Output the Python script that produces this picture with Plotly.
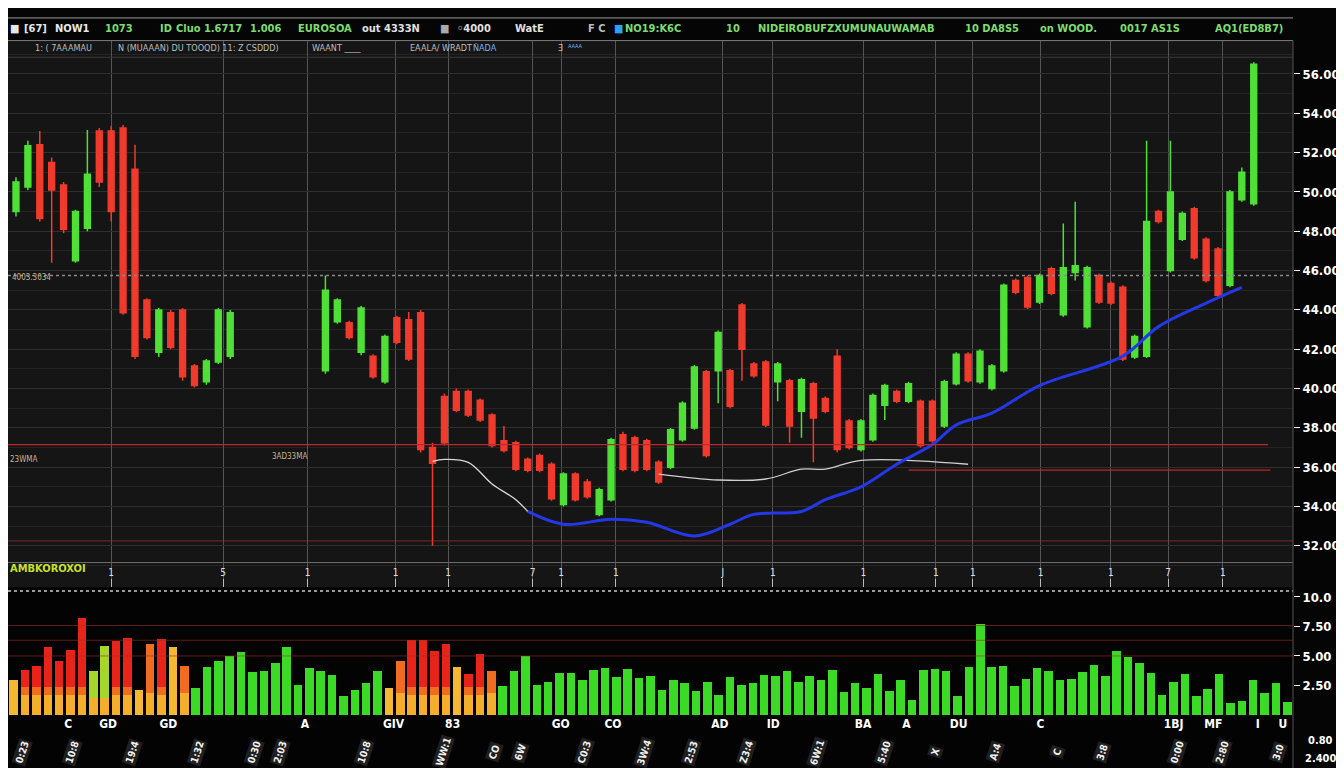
import plotly.graph_objects as go

W, H = 1344, 768
PW = 1285  # plotting width (right margin holds the price labels)
FONT = "Liberation Sans Narrow, DejaVu Sans Condensed, Arial Narrow, sans-serif"

# ---------------- candle data ----------------
candle_idx = list(range(0, 19)) + list(range(26, 105))
opens = [49.0, 50.25, 52.4, 51.5, 50.35, 46.5, 48.15, 53.1, 53.1, 53.25, 51.15, 44.5, 41.85, 43.85, 44.0, 41.15, 40.35, 41.35, 41.65,
         40.9, 43.4, 43.35, 41.85, 41.65, 40.35, 43.6, 43.5, 43.85, 37.0, 39.6, 39.85, 39.85, 39.4, 38.65, 37.35, 37.25, 36.4, 36.6,
         36.15, 34.1, 35.65, 35.25, 33.6, 34.35, 37.65, 37.5, 37.35, 36.25, 36.0, 37.4, 38.0, 40.85, 40.9, 40.9, 44.25, 41.25, 41.35,
         40.35, 40.4, 38.85, 40.25, 39.5, 41.65, 38.35, 36.9, 37.4, 39.15, 39.85, 39.35, 39.35, 39.35, 38.1, 40.25, 41.75, 40.35,
         40.0, 40.9, 45.5, 45.65, 44.4, 46.1, 43.75, 45.9, 43.15, 45.75, 45.35, 45.15, 41.6, 41.65, 49.0, 46.0, 47.6, 49.15, 47.6,
         47.1, 45.25, 49.6, 49.4]
highs = [50.75, 52.6, 53.1, 51.75, 50.5, 49.1, 53.15, 53.25, 53.35, 53.4, 52.4, 44.6, 44.1, 44.0, 44.1, 41.25, 41.5, 44.1, 44.0,
         45.75, 44.6, 43.45, 44.2, 41.75, 42.75, 43.7, 43.9, 44.0, 37.25, 39.75, 40.0, 39.95, 39.5, 38.75, 38.1, 37.35, 36.5, 36.7,
         36.25, 35.75, 35.75, 35.4, 34.95, 37.5, 37.8, 37.6, 37.45, 36.35, 38.0, 39.35, 41.2, 40.95, 42.95, 41.0, 44.35, 41.35, 41.45,
         41.35, 40.5, 40.55, 40.35, 39.6, 42.0, 38.45, 38.45, 39.75, 40.25, 39.95, 40.35, 39.45, 39.45, 40.45, 41.85, 41.85, 42.0,
         41.25, 45.35, 45.6, 45.75, 45.85, 46.2, 48.4, 49.5, 46.25, 45.85, 45.45, 45.25, 42.75, 52.6, 49.1, 52.6, 49.0, 49.25, 47.7,
         47.2, 50.1, 51.25, 56.6]
lows = [48.75, 50.1, 48.5, 46.4, 47.9, 46.4, 48.0, 50.25, 48.5, 43.75, 41.5, 42.5, 41.6, 42.0, 40.4, 40.05, 40.2, 41.25, 41.5,
        40.75, 43.3, 42.5, 41.7, 40.5, 40.25, 42.25, 41.4, 36.75, 32.0, 37.1, 38.8, 38.55, 38.3, 37.0, 36.75, 35.8, 35.75, 35.75,
        34.3, 34.0, 34.25, 34.4, 33.5, 34.25, 35.8, 35.75, 35.8, 35.15, 35.9, 37.3, 37.9, 36.5, 39.25, 39.0, 40.4, 40.55, 38.05,
        39.35, 37.25, 37.5, 36.25, 38.75, 36.75, 36.9, 36.8, 37.3, 38.4, 39.25, 39.25, 37.0, 37.25, 38.0, 40.15, 40.3, 40.25,
        39.9, 40.8, 44.8, 44.05, 44.3, 44.75, 43.65, 45.5, 43.05, 44.3, 44.25, 41.4, 41.5, 41.55, 48.4, 45.9, 47.5, 46.55, 45.4,
        44.65, 45.15, 49.5, 49.3]
closes = [50.5, 52.35, 48.65, 50.1, 48.1, 49.0, 50.9, 50.5, 49.0, 43.85, 41.65, 42.6, 44.0, 42.1, 40.6, 40.15, 41.4, 44.0, 43.85,
          45.0, 44.5, 42.6, 44.1, 40.6, 42.65, 42.35, 41.5, 36.9, 36.2, 37.25, 38.9, 38.65, 38.4, 37.1, 36.85, 35.9, 35.85, 35.85,
          34.4, 35.65, 34.35, 34.5, 34.85, 37.4, 35.9, 35.85, 35.9, 35.25, 37.9, 39.25, 41.1, 36.6, 42.85, 39.1, 42.0, 40.65, 38.15,
          41.25, 38.1, 40.45, 38.5, 38.85, 36.9, 37.0, 38.35, 39.65, 40.15, 39.35, 40.25, 37.1, 37.35, 40.35, 41.75, 40.4, 41.9,
          41.15, 45.25, 44.9, 44.15, 45.75, 44.85, 46.15, 46.25, 46.15, 44.4, 44.35, 41.5, 42.65, 48.5, 48.5, 50.0, 48.9, 46.65, 45.5,
          44.75, 50.0, 51.0, 56.5]

# moving-average style overlay lines
ma_idx = [43, 46, 50, 53, 57, 60, 62, 66, 68, 71, 74, 77, 79, 82, 86, 93, 96, 100, 103]
ma_vals = [33.75, 33.1, 33.35, 33.2, 32.5, 33.1, 33.6, 33.75, 34.35, 35.0, 36.15, 37.15, 38.15, 38.75, 40.15, 41.65, 43.15, 44.35, 45.15]
fast_idx = [35, 36, 38, 40, 42, 43]
fast_vals = [36.3, 36.4, 36.25, 35.15, 34.35, 33.75]
slow_idx = [54, 59, 63, 66, 68, 71, 80]
slow_vals = [35.65, 35.35, 35.4, 35.9, 35.9, 36.35, 36.15]

# price levels
support_levels = [37.15, 35.85, 32.25]
support_from = [-0.67, 75.0, -0.67]
support_to = [105.2, 105.4, 107.3]
pivot_level = 45.75

# price axis
price_ticks = [30, 32, 34, 36, 38, 40, 42, 44, 46, 48, 50, 52, 54, 56]

# session markers (vertical grid) and their strip labels
session_pos = [8.0, 17.4, 24.5, 31.9, 36.3, 43.4, 45.8, 50.4, 59.4, 63.6, 71.2, 77.3, 80.4, 86.1, 92.0, 96.8, 101.4]
session_txt = ["1", "5", "1", "1", "1", "7", "1", "1", "J", "1", "1", "1", "1", "1", "1", "7", "1"]

# ---------------- volume data ----------------
volumes = [292, 383, 417, 575, 458, 550, 825, 375, 583, 625, 650, 208, 600, 642, 575, 417, 225, 408, 458, 500, 533, 367, 375,
           442, 575, 250, 400, 375, 342, 158, 208, 267, 375, 225, 458, 633, 633, 542, 600, 408, 350, 517, 375, 242, 375, 500,
           250, 283, 358, 358, 292, 383, 400, 325, 392, 317, 333, 208, 292,
           267, 200, 283, 167, 325, 250, 275, 342, 333, 375, 283, 333, 292, 383, 192, 275, 225, 350, 200, 300, 125, 383, 392,
           375, 158, 408, 767, 408, 417, 242, 308, 400, 375, 300, 308, 367, 425, 333, 542, 492, 442, 358, 167, 283, 350, 158,
           217, 350, 100, 117, 292, 183, 275, 108]
vol_tone = (["nt", "dn", "dn", "dn", "dn", "dn", "dn", "mx", "mx", "dn", "dn", "nt", "wk", "dn", "nt", "wk"]
            + ["up"] * 17
            + ["nt", "wk", "dn", "dn", "dn", "dn", "nt", "dn", "dn", "wk"]
            + ["up"] * 16
            + ["up"] * 54)
vol_levels = [758, 633, 500]
vol_ticks = [250, 500, 750, 1000]
vol_ticktext = ["2.50", "5.00", "7.50", "10.0"]
vol_label_pos = [4.8, 8.3, 13.6, 25.6, 33.4, 38.6, 48.1, 52.7, 62.1, 66.8, 74.7, 78.5, 83.1, 90.3, 102.0, 105.5, 109.4, 111.6]
vol_label_txt = ["C", "GD", "GD", "A", "GIV", "83", "GO", "CO", "AD", "ID", "BA", "A", "DU", "C", "1BJ", "MF", "I", "U"]

# rotated time stamps under the volume panel
stamp_x = [14, 64, 124, 189, 246, 272, 356, 435, 486, 512, 576, 636, 683, 738, 809, 876, 927, 987, 1049, 1094, 1169, 1214, 1270]
stamp_txt = ["0:23", "10:8", "19:4", "1:32", "0:30", "2:03", "10:8", "WW:1", "CO", "6W", "C0:3", "3W:4", "2:53",
             "Z3:4", "6W:1", "5:40", "X", "A:4", "C", "3:8", "0:00", "2:80", "3:0"]

# header texts (ticker bar)
header1 = [(0, "■", "#e8e8e8"), (14, "[67]", "#e8e8e8"), (45, "NOW1", "#e8e8e8"), (95, "1073", "#7ddc6e"),
           (150, "ID", "#7ddc6e"), (166, "Cluo 1.6717", "#7ddc6e"), (240, "1.006", "#7ddc6e"),
           (288, "EUROSOA", "#7ddc6e"), (352, "out 4333N", "#e0e0e0"), (430, "■", "#aaaaaa"),
           (447, "◦4000", "#e0e0e0"), (505, "WatE", "#e0e0e0"), (578, "F C", "#bbbbbb"), (604, "■", "#2aa0ff"),
           (615, "NO19:K6C", "#7ddc6e"), (716, "10", "#7ddc6e"), (748, "NIDEIROBUFZXUMUNAUWAMAB", "#7ddc6e"),
           (955, "10 DA8S5", "#7ddc6e"), (1030, "on WOOD.", "#7ddc6e"), (1110, "0017 AS1S", "#7ddc6e"),
           (1205, "AQ1(ED8B7)", "#7ddc6e"), (1330, "I", "#ffffff")]
header2 = [(25, "1: ( 7AAAMAU", "#bdbdbd"), (108, "N (MUAAAN) DU TOOQD) 11: Z CSDDD)", "#bdbdbd"),
           (302, "WAANT ____", "#bdbdbd"), (400, "EAALA/ WRADT", "#bdbdbd"), (463, "ÑADA", "#6fb4ff"),
           (548, "Ǝ", "#bdbdbd"), (558, "ᴬᴬᴬᴬ", "#6fb4ff")]

# ---------------- geometry helpers (layout only) ----------------
def px(x):
    return x / PW

def py(y):
    return 1 - y / H

MAIN_TOP, MAIN_BOT = 26, 582
VOL_TOP, VOL_BOT = 592, 712

fig = go.Figure()

fig.add_trace(go.Candlestick(
    x=candle_idx, open=opens, high=highs, low=lows, close=closes,
    increasing=dict(line=dict(color="#4fe036", width=1.5), fillcolor="#4fe036"),
    decreasing=dict(line=dict(color="#f03a2c", width=1.5), fillcolor="#f03a2c"),
    whiskerwidth=0, showlegend=False, hoverinfo="skip", xaxis="x", yaxis="y"))

fig.add_trace(go.Scatter(x=fast_idx, y=fast_vals, mode="lines", line=dict(color="#d8d8d8", width=1.3, shape="spline"),
                         showlegend=False, hoverinfo="skip", xaxis="x", yaxis="y"))
fig.add_trace(go.Scatter(x=slow_idx, y=slow_vals, mode="lines", line=dict(color="#cfcfcf", width=1.3, shape="spline"),
                         showlegend=False, hoverinfo="skip", xaxis="x", yaxis="y"))
fig.add_trace(go.Scatter(x=ma_idx, y=ma_vals, mode="lines", line=dict(color="#2438e8", width=3, shape="spline"),
                         showlegend=False, hoverinfo="skip", xaxis="x", yaxis="y"))

# volume: stacked segments give the yellow -> orange -> red look
YEL, ORA, RED, GRN, LIM = "#f4ae2c", "#f06c1e", "#e8241a", "#3ada26", "#a6d62c"
seg1, seg2, seg3, c1, c2, c3 = [], [], [], [], [], []
for v, t in zip(volumes, vol_tone):
    if t == "dn":
        a = min(v, 170); b = min(max(v - 170, 0), 70); c = max(v - 240, 0)
        seg1.append(a); seg2.append(b); seg3.append(c); c1.append(YEL); c2.append(ORA); c3.append(RED)
    elif t == "wk":
        a = min(v, 190); b = max(v - 190, 0)
        seg1.append(a); seg2.append(b); seg3.append(0); c1.append(YEL); c2.append(ORA); c3.append(RED)
    elif t == "nt":
        seg1.append(v); seg2.append(0); seg3.append(0); c1.append("#f5b833"); c2.append(ORA); c3.append(RED)
    elif t == "mx":
        a = min(v, 140); b = max(v - 140, 0)
        seg1.append(a); seg2.append(b); seg3.append(0); c1.append(YEL); c2.append(LIM); c3.append(RED)
    else:
        seg1.append(v); seg2.append(0); seg3.append(0); c1.append(GRN); c2.append(GRN); c3.append(GRN)
vx = list(range(len(volumes)))
for seg, col in ((seg1, c1), (seg2, c2), (seg3, c3)):
    fig.add_trace(go.Bar(x=vx, y=seg, marker=dict(color=col, line=dict(width=0)), showlegend=False,
                         hoverinfo="skip", xaxis="x2", yaxis="y2"))

shapes = [
    dict(type="rect", xref="paper", yref="paper", x0=0, x1=1, y0=py(MAIN_BOT), y1=py(MAIN_TOP),
         fillcolor="#151515", line=dict(width=0), layer="below"),
    dict(type="rect", xref="paper", yref="paper", x0=0, x1=1, y0=py(768), y1=py(MAIN_BOT),
         fillcolor="#030303", line=dict(width=0), layer="below"),
    dict(type="line", xref="paper", yref="paper", x0=0, x1=1.0, y0=py(3), y1=py(3), line=dict(color="#9a9a9a", width=1)),
    dict(type="line", xref="paper", yref="paper", x0=0, x1=1.0, y0=py(MAIN_TOP), y1=py(MAIN_TOP), line=dict(color="#7a7a7a", width=1)),
    dict(type="line", xref="paper", yref="paper", x0=0, x1=1.0, y0=py(43), y1=py(43), line=dict(color="#3a3a3a", width=1)),
    dict(type="line", xref="paper", yref="paper", x0=0, x1=1.0, y0=py(557), y1=py(557), line=dict(color="#6e6e6e", width=1)),
    dict(type="line", xref="paper", yref="paper", x0=0, x1=1.0, y0=py(586), y1=py(586), line=dict(color="#9a9a9a", width=2, dash="dot")),
    dict(type="line", xref="x", yref="y", x0=-0.67, x1=107.3, y0=pivot_level, y1=pivot_level,
         line=dict(color="#8a8a8a", width=1.5, dash="dot")),
    dict(type="line", xref="paper", yref="paper", x0=1.0, x1=1.0, y0=py(768), y1=py(MAIN_TOP), line=dict(color="#555555", width=1)),
]
for lv, a, b in zip(support_levels, support_from, support_to):
    shapes.append(dict(type="line", xref="x", yref="y", x0=a, x1=b, y0=lv, y1=lv,
                       line=dict(color="#c0262a" if lv > 33 else "rgba(170,50,50,0.55)", width=1.3)))
for lv in vol_levels:
    shapes.append(dict(type="line", xref="x2", yref="y2", x0=-0.5, x1=112.5, y0=lv, y1=lv,
                       line=dict(color="rgba(160,45,35,0.6)", width=1)))

annotations = []
for x, t, c in header1:
    annotations.append(dict(x=px(x), y=py(14), xref="paper", yref="paper", text=t, showarrow=False,
                            xanchor="left", yanchor="middle",
                            font=dict(color=c, size=11, family=FONT, weight="bold")))
for x, t, c in header2:
    annotations.append(dict(x=px(x), y=py(34), xref="paper", yref="paper", text=t, showarrow=False,
                            xanchor="left", yanchor="middle", font=dict(color=c, size=9, family=FONT)))
side_notes = [(2, 267, "4003.3034", "#c9b48a", 8, "normal"), (0, 452, "23WMA", "#c9b48a", 8, "normal"),
              (262, 449, "3AD33MA", "#c9b48a", 8, "normal"), (0, 563, "AMBKOROXOI", "#c8e02a", 11, "bold")]
for x, y, t, c, s, w in side_notes:
    annotations.append(dict(x=px(x), y=py(y), xref="paper", yref="paper", text=t, showarrow=False,
                            xanchor="left", yanchor="middle", font=dict(color=c, size=s, family=FONT, weight=w)))
for x, t in zip(stamp_x, stamp_txt):
    annotations.append(dict(x=px(x), y=py(750), xref="paper", yref="paper", text=t, showarrow=False,
                            textangle=-72, xanchor="center", yanchor="middle", bgcolor="#1f1f1f",
                            font=dict(color="#f0f0f0", size=10, family=FONT, weight="bold")))
for y, t in ((738, "0.80"), (756, "2.400")):
    annotations.append(dict(x=px(1312), y=py(y), xref="paper", yref="paper", text=t, showarrow=False,
                            xanchor="center", yanchor="middle",
                            font=dict(color="#ffffff", size=11, family=FONT, weight="bold")))

fig.update_layout(
    width=W, height=H, margin=dict(l=0, r=W - PW, t=0, b=0),
    paper_bgcolor="#050505", plot_bgcolor="rgba(0,0,0,0)",
    barmode="stack", bargap=0.25, showlegend=False,
    xaxis=dict(domain=[0, 1], range=[-0.67, 107.3], anchor="y", rangeslider=dict(visible=False),
               tickmode="array", tickvals=session_pos, ticktext=session_txt, ticklabelposition="inside",
               ticks="inside", ticklen=8, tickcolor="#bbbbbb",
               tickfont=dict(color="#dddddd", size=10, family=FONT),
               showgrid=True, gridcolor="#555555", gridwidth=1, zeroline=False, showline=False),
    yaxis=dict(domain=[py(MAIN_BOT), py(MAIN_TOP)], range=[29.9, 57.7], anchor="x", side="right",
               tickmode="array", tickvals=price_ticks, ticktext=[f"{v:.2f}" for v in price_ticks],
               ticks="outside", ticklen=6, tickcolor="#ffffff",
               tickfont=dict(color="#ffffff", size=13, family=FONT, weight="bold"),
               showgrid=True, gridcolor="#2f2f2f", gridwidth=1, zeroline=False,
               minor=dict(dtick=1, showgrid=True, gridcolor="#242424", gridwidth=1)),
    xaxis2=dict(domain=[0, 1], range=[-0.5, 112.5], anchor="y2", tickmode="array", tickvals=vol_label_pos,
                ticktext=vol_label_txt, ticks="", tickfont=dict(color="#ffffff", size=12, family=FONT, weight="bold"),
                showgrid=False, zeroline=False, showline=False),
    yaxis2=dict(domain=[py(VOL_BOT), py(VOL_TOP)], range=[0, 1000], anchor="x2", side="right",
                tickmode="array", tickvals=vol_ticks, ticktext=vol_ticktext, ticks="outside", ticklen=6,
                tickcolor="#ffffff", tickfont=dict(color="#ffffff", size=13, family=FONT, weight="bold"),
                showgrid=False, zeroline=False),
    shapes=shapes, annotations=annotations,
)

fig.write_html("out.html")
